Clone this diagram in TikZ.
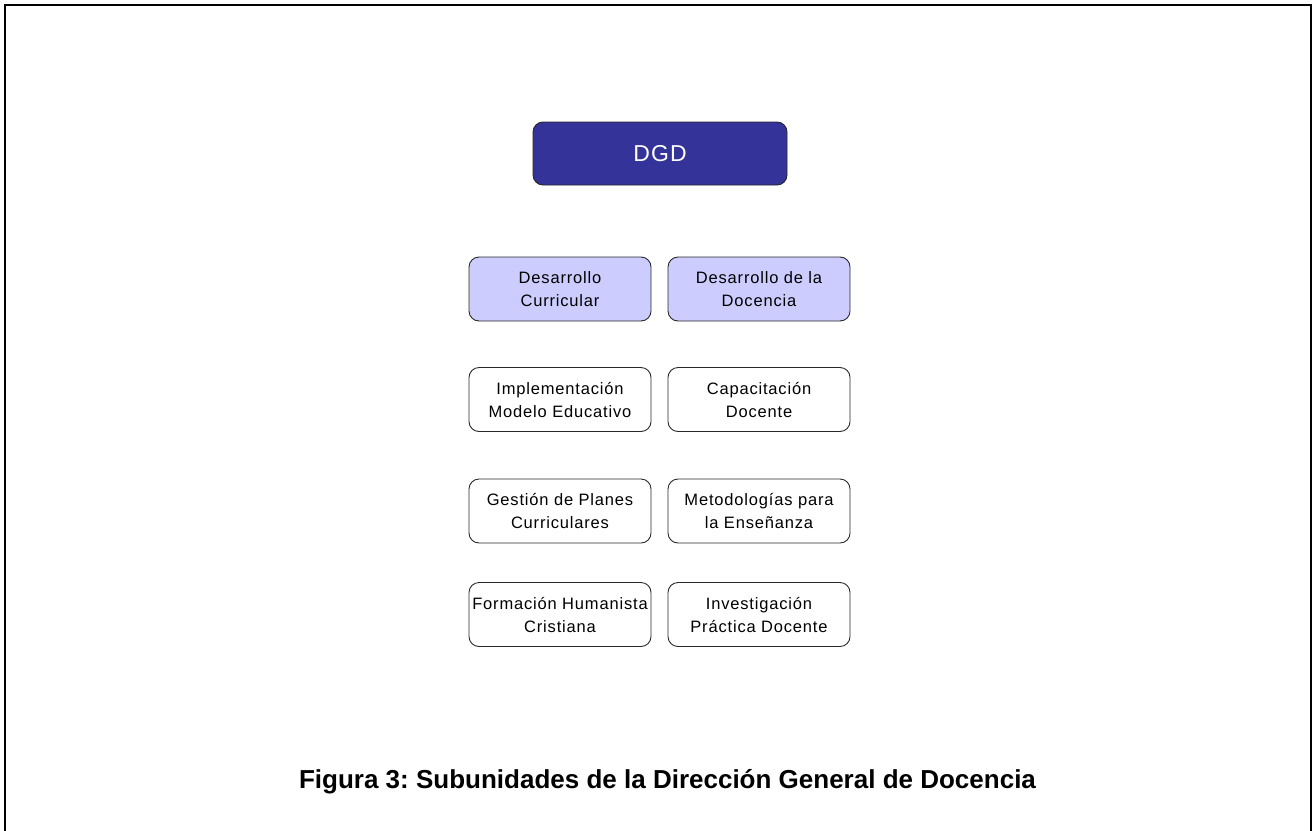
\documentclass[tikz,border=0pt]{standalone}
\usepackage{fontspec}
\setmainfont{Liberation Sans}
\newfontfamily\boxfont[LetterSpace=5]{Liberation Sans}
\definecolor{dgdblue}{RGB}{51,51,153}
\definecolor{lav}{RGB}{204,204,255}
\definecolor{edge}{RGB}{40,40,40}
\frenchspacing
\begin{document}
\begin{tikzpicture}[x=1pt,y=-1pt,
  unitbox/.style={draw=edge, line width=0.9pt, rounded corners=10pt, minimum width=182pt, minimum height=64pt, inner sep=0pt, align=center, font=\boxfont\fontsize{16.5}{23}\selectfont},
  hilite/.style={unitbox, fill=lav},
  plain/.style={unitbox, fill=white},
  topbox/.style={draw=edge, line width=0.9pt, rounded corners=10pt, fill=dgdblue, minimum width=254pt, minimum height=63pt, inner sep=0pt, text=white, font=\boxfont\fontsize{23}{26}\selectfont},
  caption/.style={font=\fontsize{26}{30}\selectfont\bfseries, inner sep=0pt}]
\useasboundingbox (0,0) rectangle (1313,830);
\draw[line width=2pt, black] (5,840) -- (5,5) -- (1311,5) -- (1311,840);
\node[topbox] (dgd) at (660,153.5) {DGD};
\node[hilite] (dc) at (560,289) {Desarrollo\\Curricular};
\node[hilite] (dd) at (759,289) {Desarrollo de la\\Docencia};
\node[plain] (ime) at (560,399.5) {Implementación\\Modelo Educativo};
\node[plain] (cd) at (759,399.5) {Capacitación\\Docente};
\node[plain] (gpc) at (560,511) {Gestión de Planes\\Curriculares};
\node[plain] (me) at (759,511) {Metodologías para\\la Enseñanza};
\node[plain] (fhc) at (560,614.5) {Formación Humanista\\Cristiana};
\node[plain] (ipd) at (759,614.5) {Investigación\\Práctica Docente};
\node[caption] (cap) at (667.5,782) {Figura 3: Subunidades de la Dirección General de Docencia};
\end{tikzpicture}
\end{document}
